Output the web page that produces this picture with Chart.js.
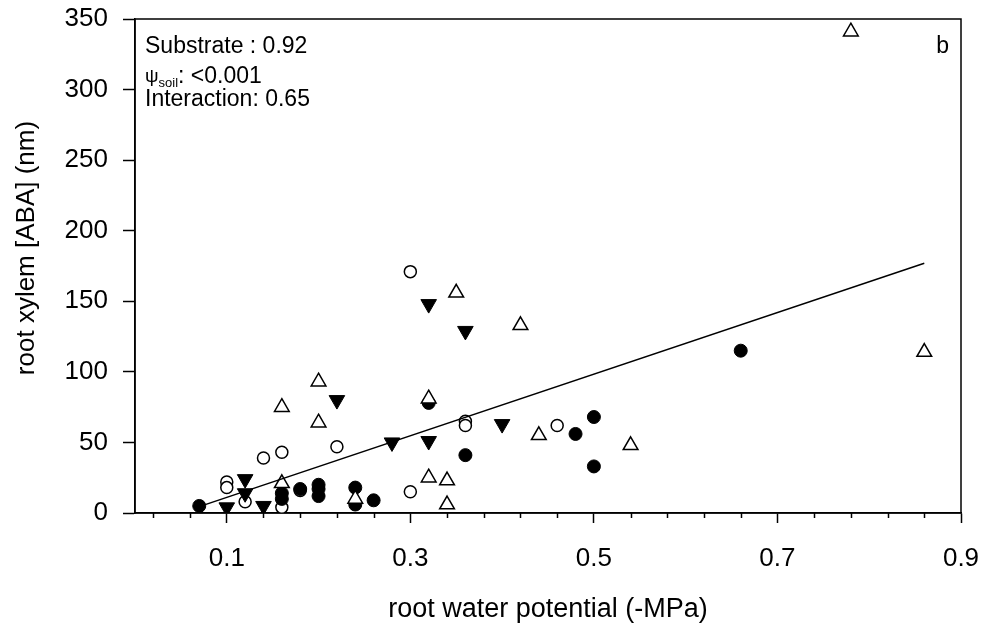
<!DOCTYPE html>
<html>
<head>
<meta charset="utf-8">
<script src="https://cdn.jsdelivr.net/npm/chart.js@4.4.0/dist/chart.umd.min.js"></script>
<style>
  html, body { margin: 0; padding: 0; background: #fff; }
  #wrap { width: 998px; height: 628px; }
</style>
</head>
<body>
<div id="wrap"><canvas id="chart" width="998" height="628"></canvas></div>
<script>
// values
var filledCircleX = [0.07, 0.16, 0.16, 0.18, 0.20, 0.20, 0.20, 0.24, 0.24, 0.26, 0.32, 0.36, 0.48, 0.50, 0.50, 0.66];
var filledCircleY = [5, 14, 10, 17, 20, 17, 12, 18, 6, 9, 78, 41, 56, 68, 33, 115];

var openCircleX = [0.10, 0.10, 0.12, 0.14, 0.16, 0.16, 0.18, 0.22, 0.30, 0.30, 0.36, 0.36, 0.46];
var openCircleY = [22, 18, 8, 39, 43, 4, 16, 47, 171, 15, 65, 62, 62];

var filledTriX = [0.10, 0.12, 0.12, 0.14, 0.22, 0.28, 0.32, 0.32, 0.36, 0.40];
var filledTriY = [4, 24, 14, 5, 80, 50, 148, 51, 129, 63];

var openTriX = [0.16, 0.16, 0.20, 0.20, 0.24, 0.32, 0.32, 0.34, 0.34, 0.35, 0.42, 0.44, 0.54, 0.78, 0.86];
var openTriY = [75, 21, 93, 64, 10, 81, 25, 23, 6, 156, 133, 55, 48, 341, 114];

// regression line end points
var fitX = [0.07, 0.86];
var fitY = [4.5, 177];

var xTickLabels = [0.1, 0.3, 0.5, 0.7, 0.9];
var xMinorStep = 0.04;
var yTickLabels = [0, 50, 100, 150, 200, 250, 300, 350];

var xTitle = 'root water potential (-MPa)';
var yTitle = 'root xylem [ABA] (nm)';
var statLines = ['Substrate : 0.92', ': <0.001', 'Interaction: 0.65'];
var panelLabel = 'b';

function toPoints(xs, ys) {
  return xs.map(function(x, i) { return { x: x, y: ys[i] }; });
}

var FONT = '"Liberation Sans", Arial, Helvetica, sans-serif';
Chart.defaults.color = '#000';
Chart.defaults.font.family = FONT;

// box around plot + minor ticks on x
var framePlugin = {
  id: 'frame',
  beforeDatasetsDraw: function(chart) {
    var ctx = chart.ctx, a = chart.chartArea;
    var xs = chart.scales.x;
    ctx.save();
    ctx.strokeStyle = '#000';
    ctx.lineWidth = 1.5;
    ctx.strokeRect(a.left, a.top, a.right - a.left, a.bottom - a.top);
    ctx.beginPath();
    for (var v = 0.02; v < 0.9; v += xMinorStep) {
      var val = Math.round(v * 100) / 100;
      if (xTickLabels.indexOf(val) >= 0) continue;
      var px = Math.round(xs.getPixelForValue(val)) + 0.5;
      ctx.moveTo(px, a.bottom);
      ctx.lineTo(px, a.bottom + 5);
    }
    ctx.stroke();
    ctx.restore();
  }
};

// y title, statistics text top-left, panel letter top-right
var textPlugin = {
  id: 'statText',
  afterDraw: function(chart) {
    var ctx = chart.ctx, a = chart.chartArea;
    var x0 = a.left + 10;
    ctx.save();
    ctx.fillStyle = '#000';

    ctx.save();
    ctx.translate(27, a.top + 229);
    ctx.rotate(-Math.PI / 2);
    ctx.textAlign = 'center';
    ctx.textBaseline = 'middle';
    ctx.font = '26px ' + FONT;
    ctx.fillText(yTitle, 0, 0);
    ctx.restore();

    ctx.textBaseline = 'alphabetic';
    ctx.textAlign = 'left';
    ctx.font = '23px ' + FONT;
    ctx.fillText(statLines[0], x0, a.top + 34);
    ctx.font = '19px ' + FONT;
    ctx.fillText('\u03C8', x0, a.top + 63);
    var w = ctx.measureText('\u03C8').width;
    ctx.font = '13px ' + FONT;
    ctx.fillText('soil', x0 + w, a.top + 68);
    var w2 = ctx.measureText('soil').width;
    ctx.font = '23px ' + FONT;
    ctx.fillText(statLines[1], x0 + w + w2, a.top + 64);
    ctx.fillText(statLines[2], x0, a.top + 87);
    ctx.textAlign = 'right';
    ctx.fillText(panelLabel, a.right - 12, a.top + 34);
    ctx.restore();
  }
};

var ctx = document.getElementById('chart');
new Chart(ctx, {
  type: 'scatter',
  data: {
    datasets: [
      {
        type: 'line',
        data: toPoints(fitX, fitY),
        borderColor: '#000',
        borderWidth: 1.5,
        pointRadius: 0,
        fill: false
      },
      {
        data: toPoints(openTriX, openTriY),
        pointStyle: 'triangle',
        pointRadius: 8.5,
        backgroundColor: '#fff',
        borderColor: '#000',
        borderWidth: 1.5
      },
      {
        data: toPoints(filledTriX, filledTriY),
        pointStyle: 'triangle',
        rotation: 180,
        pointRadius: 9,
        backgroundColor: '#000',
        borderColor: '#000',
        borderWidth: 1
      },
      {
        data: toPoints(filledCircleX, filledCircleY),
        pointStyle: 'circle',
        pointRadius: 6.5,
        backgroundColor: '#000',
        borderColor: '#000',
        borderWidth: 1
      },
      {
        data: toPoints(openCircleX, openCircleY),
        pointStyle: 'circle',
        pointRadius: 6,
        backgroundColor: '#fff',
        borderColor: '#000',
        borderWidth: 1.5
      }
    ]
  },
  options: {
    responsive: false,
    animation: false,
    layout: { padding: { left: 0, right: 37, top: 19, bottom: 0 } },
    plugins: {
      legend: { display: false },
      tooltip: { enabled: false }
    },
    scales: {
      x: {
        type: 'linear',
        min: 0,
        max: 0.9,
        afterFit: function(s) {
          s.height = 115;
          s.paddingLeft = 0;
          s.paddingRight = 0;
        },
        afterBuildTicks: function(s) {
          s.ticks = xTickLabels.map(function(v) { return { value: v }; });
        },
        ticks: {
          font: { size: 26 },
          padding: 20,
          callback: function(v) { return v.toFixed(1); }
        },
        grid: { drawOnChartArea: false, tickLength: 10, tickColor: '#000', tickWidth: 1.5 },
        border: { display: true, color: '#000', width: 1.5 },
        title: {
          display: true,
          text: xTitle,
          font: { size: 27 },
          padding: { top: 0, bottom: 2 }
        }
      },
      y: {
        min: 0,
        max: 350,
        afterFit: function(s) {
          s.width = 135;
          s.paddingTop = 0;
          s.paddingBottom = 0;
        },
        afterBuildTicks: function(s) {
          s.ticks = yTickLabels.map(function(v) { return { value: v }; });
        },
        ticks: {
          font: { size: 26 },
          padding: 15
        },
        grid: { drawOnChartArea: false, tickLength: 12, tickColor: '#000', tickWidth: 1.5 },
        border: { display: true, color: '#000', width: 1.5 }
      }
    }
  },
  plugins: [framePlugin, textPlugin]
});
</script>
</body>
</html>
